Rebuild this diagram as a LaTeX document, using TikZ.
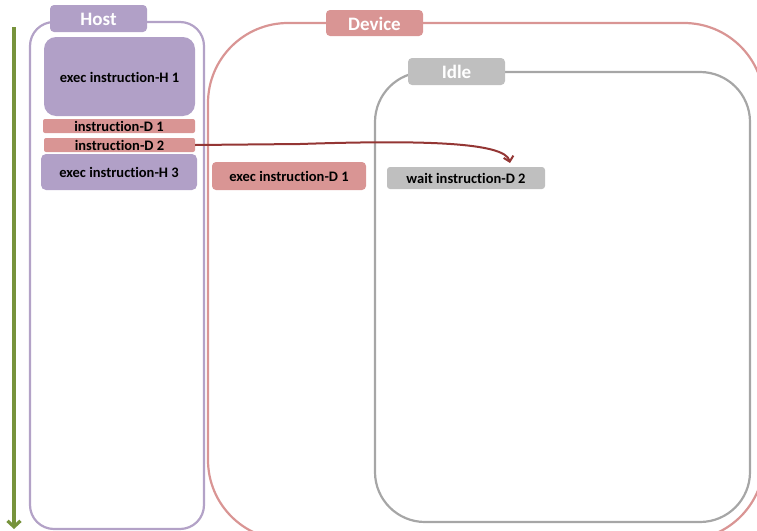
\documentclass[tikz,border=0pt]{standalone}
\usepackage{fontspec}
\setmainfont{Carlito}[Ligatures=NoCommon]
\usetikzlibrary{arrows.meta}
\definecolor{lav}{HTML}{B1A0C7}
\definecolor{lavline}{HTML}{B3A2C7}
\definecolor{sal}{HTML}{D99594}
\definecolor{gry}{HTML}{BFBFBF}
\definecolor{gryline}{HTML}{A6A6A6}
\definecolor{olive}{HTML}{77933C}
\definecolor{dred}{HTML}{943634}
\begin{document}
\begin{tikzpicture}[x=1pt,y=-1pt,
  lbl/.style={font=\bfseries\fontsize{14.5}{16}\selectfont,text=black,inner sep=0pt},
  title/.style={font=\bfseries\fontsize{19}{20}\selectfont,text=white,inner sep=0pt}]
\useasboundingbox (0,0) rectangle (757,530);
\clip (0,0) rectangle (757,530);
% containers
\draw[lavline,line width=2.2pt,rounded corners=24pt] (30,22) rectangle (204,529);
\draw[sal,line width=2.2pt,rounded corners=80pt] (208,23) rectangle (764,540);
\draw[gryline,line width=2.2pt,rounded corners=50pt] (375,72) rectangle (750,522);
% labels
\fill[lav,rounded corners=4pt] (50,5) rectangle (147,32);
\node[title] (host) at (98.5,19) {Host};
\fill[sal,rounded corners=4pt] (326,10) rectangle (423,36);
\node[title] (device) at (374.5,23.5) {Device};
\fill[gry,rounded corners=4pt] (408,58) rectangle (505,85);
\node[title] (idle) at (456.5,72) {Idle};
% host items
\fill[lav,rounded corners=12pt] (44,37) rectangle (195,116);
\node[lbl] (h1) at (119.5,77) {exec instruction-H 1};
\fill[sal,rounded corners=2pt] (43,119) rectangle (195,133);
\node[lbl] (d1) at (119,126.5) {instruction-D 1};
\fill[sal,rounded corners=2pt] (44,138) rectangle (195,152);
\node[lbl,minimum height=14pt,minimum width=151pt] (d2) at (119.5,145) {instruction-D 2};
\fill[lav,rounded corners=5pt] (41,154) rectangle (197,190);
\node[lbl] (h3) at (119,172.5) {exec instruction-H 3};
% device items
\fill[sal,rounded corners=4pt] (212,162) rectangle (366,190);
\node[lbl] (ed1) at (289,176.5) {exec instruction-D 1};
\fill[gry,rounded corners=3pt] (387,167) rectangle (545,189);
\node[lbl] (wd2) at (466,178) {wait instruction-D 2};
\coordinate (tgt) at (510,163);
% arrows
\draw[dred,line width=2pt,-{Straight Barb[length=5pt,width=10pt]}] (d2.east) -- (300,144) .. controls (420,140) and (505,142) .. (tgt);
\coordinate (ts) at (14,27);
\coordinate (te) at (14,529);
\draw[olive,line width=3.2pt,-{Straight Barb[length=6pt,width=13pt]}] (ts) -- (te);
\end{tikzpicture}
\end{document}
